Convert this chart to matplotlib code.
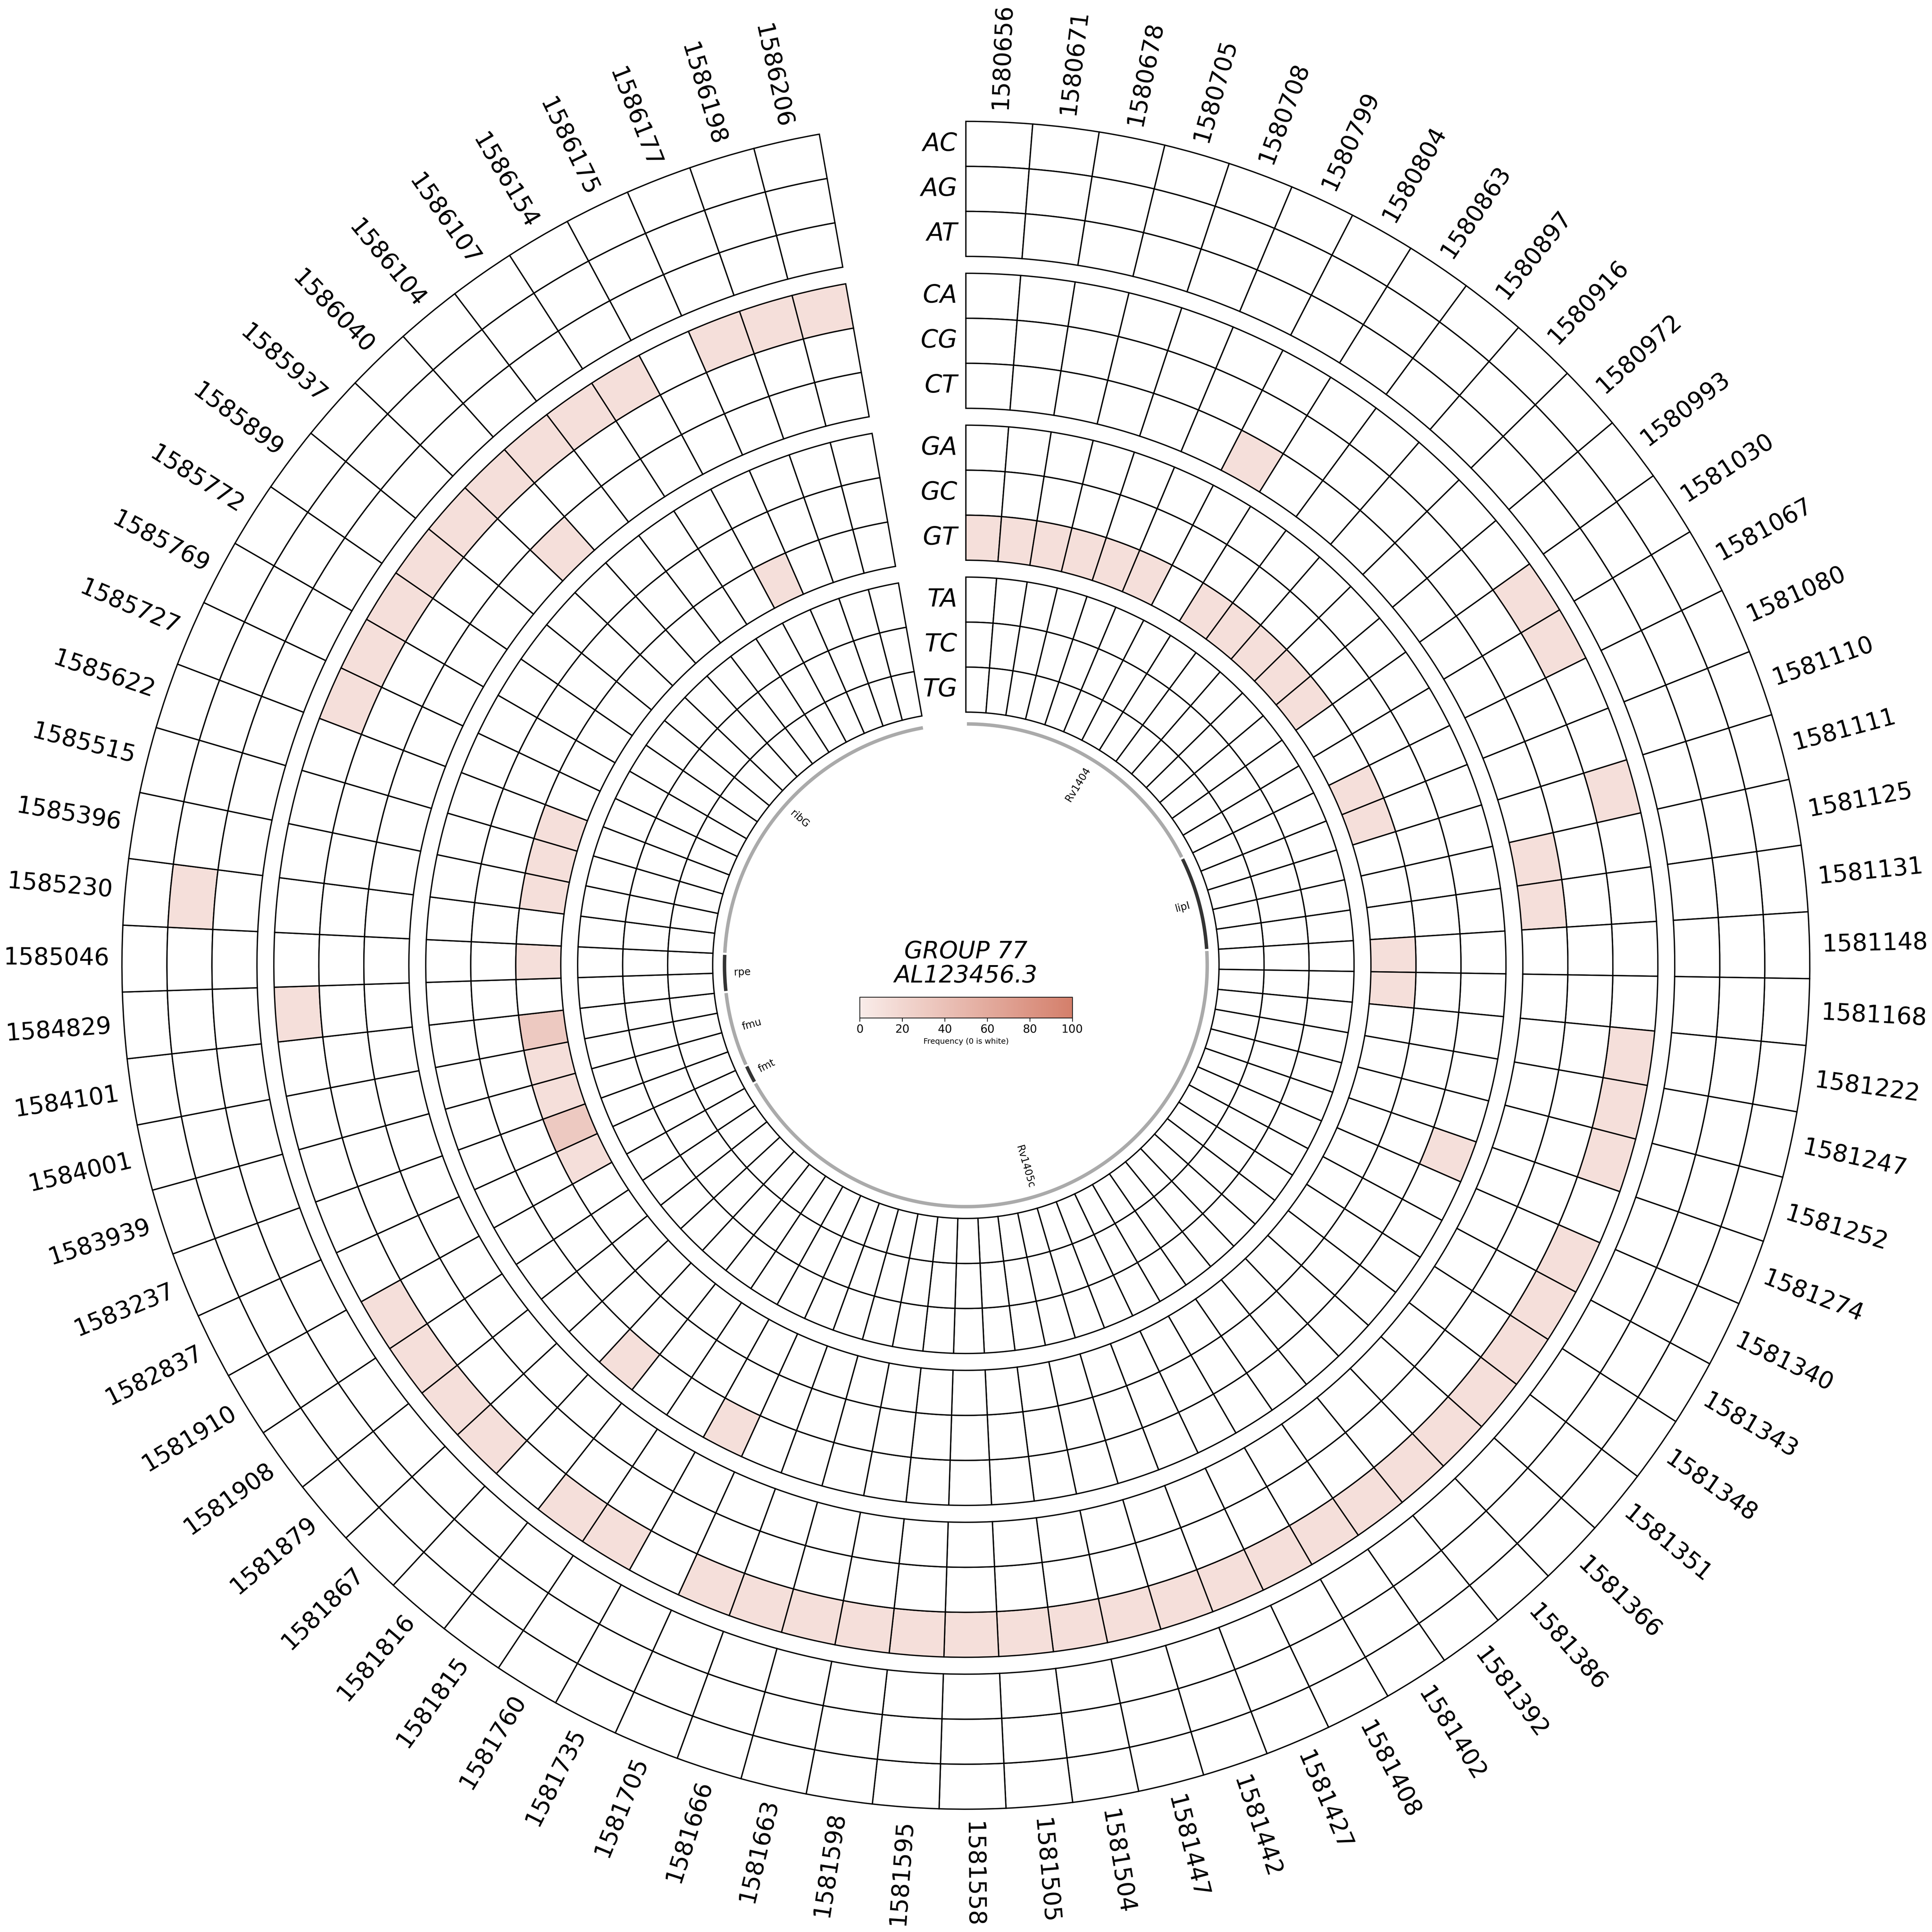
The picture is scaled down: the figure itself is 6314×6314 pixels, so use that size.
import numpy as np
import matplotlib
matplotlib.use("Agg")
import matplotlib.pyplot as plt
from matplotlib import transforms
from matplotlib.colors import LinearSegmentedColormap, Normalize
from matplotlib.cm import ScalarMappable

# positions (columns, clockwise from top)
positions = ["1580656", "1580671", "1580678", "1580705", "1580708", "1580799", "1580804",
             "1580863", "1580897", "1580916", "1580972", "1580993", "1581030", "1581067",
             "1581080", "1581110", "1581111", "1581125", "1581131", "1581148", "1581168",
             "1581222", "1581247", "1581252", "1581274", "1581340", "1581343", "1581348",
             "1581351", "1581366", "1581386", "1581392", "1581402", "1581408", "1581427",
             "1581442", "1581447", "1581504", "1581505", "1581558", "1581595", "1581598",
             "1581663", "1581666", "1581705", "1581735", "1581760", "1581815", "1581816",
             "1581867", "1581879", "1581908", "1581910", "1582837", "1583237", "1583939",
             "1584001", "1584101", "1584829", "1585046", "1585230", "1585396", "1585515",
             "1585622", "1585727", "1585769", "1585772", "1585899", "1585937", "1586040",
             "1586104", "1586107", "1586154", "1586175", "1586177", "1586198", "1586206"]

rows = ["AC", "AG", "AT", "CA", "CG", "CT", "GA", "GC", "GT", "TA", "TC", "TG"]

# non-zero cells per row: column index -> frequency
AG_cols = [60]
AG_vals = [12]
CA_cols = [12, 13, 16, 21, 22, 23, 25, 26, 27, 28, 29, 30, 31, 32, 33, 34, 35, 36, 37, 38,
           39, 40, 41, 42, 43, 44, 46, 47, 49, 50, 51, 52, 58, 64, 65, 66, 67, 68, 69, 70,
           71, 72, 74, 75, 76]
CA_vals = [12, 12, 12, 12, 12, 12, 12, 12, 12, 12, 12, 12, 12, 12, 12, 12, 12, 12, 12, 12,
           12, 12, 12, 12, 12, 12, 12, 12, 12, 12, 12, 12, 12, 12, 12, 12, 12, 12, 12, 12,
           12, 12, 12, 12, 12]
CT_cols = [6, 17, 18, 69]
CT_vals = [12, 12, 12, 12]
GA_cols = [24, 45, 48]
GA_vals = [12, 12, 12]
GT_cols = [0, 1, 2, 3, 4, 5, 7, 8, 9, 10, 11, 14, 15, 19, 20, 53, 54, 55, 56, 57, 59,
           61, 62, 63, 73]
GT_vals = [12, 12, 12, 12, 12, 12, 12, 12, 12, 12, 12, 12, 12, 12, 12, 12, 32, 12, 12, 32, 12,
           12, 12, 12, 12]
hits = {"AG": (AG_cols, AG_vals), "CA": (CA_cols, CA_vals), "CT": (CT_cols, CT_vals),
        "GA": (GA_cols, GA_vals), "GT": (GT_cols, GT_vals)}

# gene track (in column units)
genes = ["Rv1404", "lipI", "Rv1405c", "fmt", "fmu", "rpe", "ribG"]
gene_start = [0, 14, 19, 53, 54, 58, 60]
gene_end = [14, 19, 53, 54, 58, 60, 77]

# layout measured on a 6766 x 6765 canvas at 300 dpi; saved a bit smaller
W, H, DPI = 6766, 6765, 300
SAVE_DPI = 280
fig = plt.figure(figsize=(W / DPI, H / DPI), dpi=SAVE_DPI)
ax = fig.add_axes([427 / W, 430 / H, 5910 / W, 5910 / H], projection="polar")
ax.set_theta_zero_location("N")
ax.set_theta_direction(-1)
ax.set_ylim(0, 100)
ax.axis("off")

cmap = LinearSegmentedColormap.from_list("freq", ["#f9ece9", "#d47f6b"])
norm = Normalize(0, 100)

span = 350.0
ncol = len(positions)
cw = np.deg2rad(span / ncol)
theta = (np.arange(ncol) + 0.5) * cw

tracks = [(84, 100), (66, 82), (48, 64), (30, 46)]
rh = 16 / 3
lbl_off = transforms.offset_copy(ax.transData, fig=fig, x=-0.10, y=0, units="inches")

for i, row in enumerate(rows):
    top = tracks[i // 3][1] - (i % 3) * rh
    vals = np.zeros(ncol)
    if row in hits:
        vals[hits[row][0]] = hits[row][1]
    colors = [cmap(norm(v)) if v > 0 else "white" for v in vals]
    ax.bar(theta, rh, width=cw, bottom=top - rh, color=colors, edgecolor="black",
           linewidth=1.1, align="center", clip_on=False)
    ax.text(0, top - rh / 2, row, transform=lbl_off, ha="right", va="center",
            fontsize=21, style="italic")

# position labels
for i, lab in enumerate(positions):
    deg = (i + 0.5) * span / ncol
    if deg <= 180:
        ax.text(theta[i], 101.5, lab, rotation=90 - deg, rotation_mode="anchor",
                ha="left", va="center", fontsize=20)
    else:
        ax.text(theta[i], 101.5, lab, rotation=270 - deg, rotation_mode="anchor",
                ha="right", va="center", fontsize=20)

# genes
gap = np.deg2rad(0.25)
for j, g in enumerate(genes):
    col = "#aaaaaa" if j % 2 == 0 else "#333333"
    t = np.linspace(gene_start[j] * cw + gap, gene_end[j] * cw - gap, 200)
    ax.plot(t, np.full_like(t, 28.6), color=col, lw=2.9, solid_capstyle="butt")
    mid = (gene_start[j] + gene_end[j]) / 2 * cw
    deg = np.rad2deg(mid)
    if deg <= 180:
        ax.text(mid, 27.5, g, rotation=90 - deg, rotation_mode="anchor",
                ha="right", va="center", fontsize=8.5)
    else:
        ax.text(mid, 27.5, g, rotation=270 - deg, rotation_mode="anchor",
                ha="left", va="center", fontsize=8.5)

fig.text(3382 / W, 1 - 3374 / H, "GROUP 77\nAL123456.3", ha="center", va="center",
         fontsize=20, style="italic", linespacing=1.05)

# colorbar
cax = fig.add_axes([3011 / W, 1 - 3565 / H, 744 / W, 73 / H])
cb = fig.colorbar(ScalarMappable(norm=norm, cmap=cmap), cax=cax, orientation="horizontal")
cb.set_ticks([0, 20, 40, 60, 80, 100])
cb.ax.tick_params(labelsize=9.5, length=3, width=0.6, pad=2)
cb.outline.set_linewidth(0.6)
cb.set_label("Frequency (0 is white)", fontsize=6.5, labelpad=2)

fig.savefig("out.png", dpi=SAVE_DPI)
